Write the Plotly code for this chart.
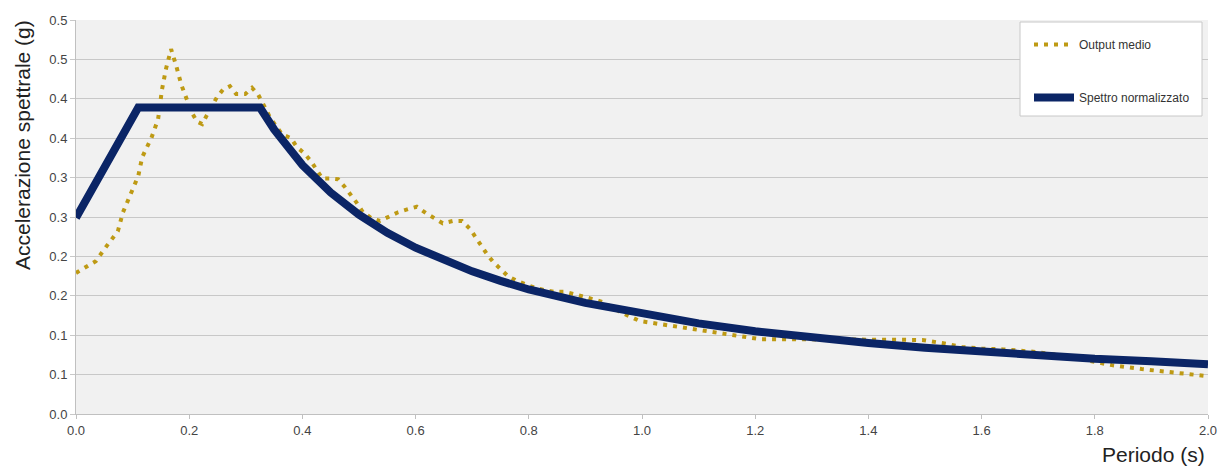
import plotly.graph_objects as go

# Periods (s) and mean output spectral acceleration (g)
output_period = [
    0.000, 0.035, 0.055, 0.074, 0.083, 0.097, 0.110, 0.117, 0.133, 0.145,
    0.152, 0.159, 0.168, 0.177, 0.186, 0.198, 0.205, 0.214, 0.223, 0.231,
    0.249, 0.260, 0.272, 0.283, 0.299, 0.311, 0.322, 0.331, 0.343, 0.364,
    0.380, 0.390, 0.403, 0.415, 0.424, 0.435, 0.449, 0.463, 0.475, 0.486,
    0.496, 0.507, 0.521, 0.537, 0.553, 0.569, 0.587, 0.602, 0.618, 0.633,
    0.648, 0.666, 0.682, 0.696, 0.705, 0.717, 0.726, 0.737, 0.749, 0.763,
    0.779, 0.795, 0.811, 0.829, 0.846, 0.864, 0.882, 0.899, 0.917, 0.931,
    0.960, 0.996, 1.032, 1.067, 1.085, 1.130, 1.173, 1.208, 1.226, 1.300,
    1.360, 1.420, 1.459, 1.495, 1.530, 1.565, 1.600, 1.638, 1.691, 1.726,
    1.780, 1.830, 1.883, 1.936, 1.989, 2.000,
]
output_accel = [
    0.179, 0.194, 0.214, 0.232, 0.256, 0.279, 0.302, 0.326, 0.350, 0.374,
    0.412, 0.438, 0.463, 0.442, 0.418, 0.395, 0.382, 0.371, 0.368, 0.379,
    0.402, 0.412, 0.416, 0.406, 0.406, 0.414, 0.405, 0.393, 0.376, 0.355,
    0.350, 0.339, 0.331, 0.321, 0.311, 0.299, 0.299, 0.298, 0.288, 0.278,
    0.268, 0.256, 0.249, 0.245, 0.250, 0.256, 0.260, 0.263, 0.255, 0.249,
    0.242, 0.245, 0.245, 0.235, 0.225, 0.213, 0.203, 0.193, 0.184, 0.175,
    0.169, 0.164, 0.160, 0.157, 0.155, 0.155, 0.152, 0.148, 0.145, 0.142,
    0.130, 0.118, 0.114, 0.110, 0.109, 0.104, 0.099, 0.095, 0.095, 0.095,
    0.095, 0.095, 0.095, 0.094, 0.090, 0.085, 0.083, 0.082, 0.079, 0.076,
    0.069, 0.062, 0.057, 0.053, 0.049, 0.048,
]

# Normalised design spectrum (g)
spectrum_period = [
    0.000, 0.110, 0.325, 0.350, 0.400, 0.450, 0.500, 0.550, 0.600, 0.650,
    0.700, 0.750, 0.800, 0.900, 1.000, 1.100, 1.200, 1.300, 1.400, 1.500,
    1.600, 1.700, 1.800, 1.900, 2.000,
]
spectrum_accel = [
    0.249, 0.389, 0.389, 0.361, 0.316, 0.281, 0.253, 0.230, 0.211, 0.195,
    0.181, 0.169, 0.158, 0.141, 0.127, 0.115, 0.105, 0.097, 0.090, 0.084,
    0.079, 0.074, 0.070, 0.067, 0.063,
]

# Axis ticks
x_ticks = [0.0, 0.2, 0.4, 0.6, 0.8, 1.0, 1.2, 1.4, 1.6, 1.8, 2.0]
x_tick_text = ["0.0", "0.2", "0.4", "0.6", "0.8", "1.0", "1.2", "1.4", "1.6", "1.8", "2.0"]
y_ticks = [0.0, 0.05, 0.10, 0.15, 0.20, 0.25, 0.30, 0.35, 0.40, 0.45, 0.50]
y_tick_text = ["0.0", "0.1", "0.1", "0.2", "0.2", "0.3", "0.3", "0.4", "0.4", "0.5", "0.5"]

FONT = "Liberation Sans, Arial, sans-serif"
NAVY = "#0B2566"
GOLD = "#BE9A14"

W, H = 1220, 466
ML, MR, MT, MB = 76, 12, 20, 52
PW, PH = W - ML - MR, H - MT - MB


def px_x(px):
    """Horizontal pixel -> paper fraction."""
    return (px - ML) / PW


def px_y(py):
    """Vertical pixel (from top) -> paper fraction."""
    return (H - MB - py) / PH


fig = go.Figure()

fig.add_trace(go.Scatter(
    x=output_period, y=output_accel, mode="lines", name="Output medio",
    line=dict(color=GOLD, width=4, dash="4px,6px"),
    legendgroup="a",
))
fig.add_trace(go.Scatter(
    x=spectrum_period, y=spectrum_accel, mode="lines", name="Spettro normalizzato",
    line=dict(color=NAVY, width=8),
    legendgroup="b",
))

fig.update_layout(
    width=W, height=H,
    margin=dict(l=ML, r=MR, t=MT, b=MB, autoexpand=False),
    paper_bgcolor="white",
    plot_bgcolor="#F1F1F1",
    font=dict(family=FONT, size=13, color="#444444"),
    showlegend=True,
    legend=dict(
        x=px_x(1029), y=px_y(30), xanchor="left", yanchor="top",
        bgcolor="rgba(0,0,0,0)", borderwidth=0,
        font=dict(family=FONT, size=12, color="#333333"),
        tracegroupgap=34, traceorder="grouped",
        itemwidth=40,
    ),
    shapes=[
        dict(type="rect", xref="paper", yref="paper",
             x0=px_x(1020), x1=px_x(1202), y0=px_y(116), y1=px_y(22),
             fillcolor="white", line=dict(color="#C8C8C8", width=1),
             layer="above"),
    ],
    xaxis=dict(
        range=[0, 2.0], tickvals=x_ticks, ticktext=x_tick_text,
        showgrid=False, zeroline=False, automargin=False,
        showline=True, linecolor="#C0C0C0", linewidth=1,
        ticks="outside", ticklen=4, tickcolor="#C0C0C0",
        tickfont=dict(family=FONT, size=13, color="#444444"),
    ),
    yaxis=dict(
        range=[0, 0.5], tickvals=y_ticks, ticktext=y_tick_text,
        showgrid=True, gridcolor="#C8C8C8", gridwidth=1, zeroline=False,
        automargin=False,
        showline=True, linecolor="#C0C0C0", linewidth=1,
        ticks="outside", ticklen=5, tickcolor="#C8C8C8",
        tickfont=dict(family=FONT, size=13, color="#444444"),
    ),
    annotations=[
        dict(text="Accelerazione spettrale (g)", xref="paper", yref="paper",
             x=px_x(22), y=px_y(145), xanchor="center", yanchor="middle",
             textangle=-90, showarrow=False,
             font=dict(family=FONT, size=21, color="#222222")),
        dict(text="Periodo (s)", xref="paper", yref="paper",
             x=px_x(1207), y=px_y(468), xanchor="right", yanchor="bottom",
             showarrow=False,
             font=dict(family=FONT, size=21, color="#222222")),
    ],
)

fig.write_html("out.html")
